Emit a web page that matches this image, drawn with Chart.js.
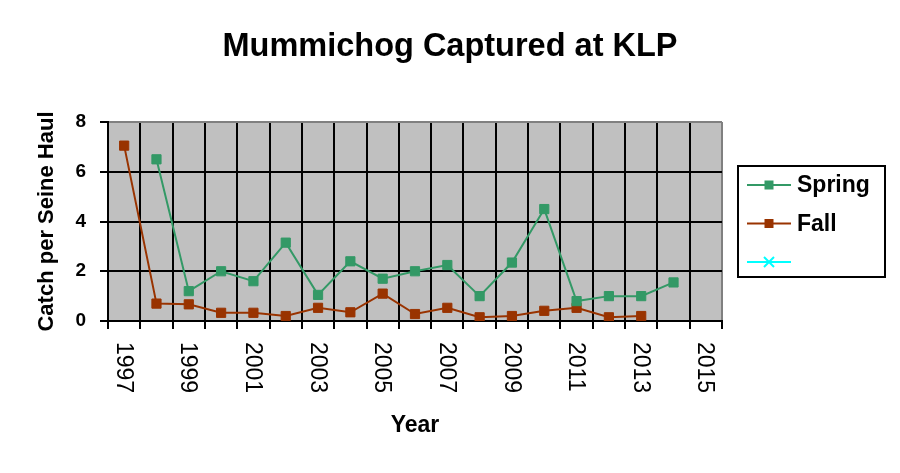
<!DOCTYPE html>
<html>
<head>
<meta charset="utf-8">
<script src="https://cdn.jsdelivr.net/npm/chart.js@4/dist/chart.umd.min.js"></script>
<style>
  html, body { margin: 0; padding: 0; background: #fff; }
  #wrap { width: 900px; height: 473px; }
</style>
</head>
<body>
<div id="wrap"><canvas id="chart"></canvas></div>
<script>
  'use strict';

  const FONT = '"Liberation Sans", Arial, sans-serif';

  // data
  const years = ['1997', '1998', '1999', '2000', '2001', '2002', '2003', '2004', '2005', '2006',
    '2007', '2008', '2009', '2010', '2011', '2012', '2013', '2014', '2015'];
  const spring = [null, 6.5, 1.2, 2.0, 1.6, 3.15, 1.05, 2.4, 1.7, 2.0,
    2.25, 1.0, 2.35, 4.5, 0.8, 1.0, 1.0, 1.55, null];
  const fall = [7.05, 0.7, 0.67, 0.33, 0.33, 0.2, 0.53, 0.35, 1.1, 0.28,
    0.53, 0.15, 0.2, 0.41, 0.53, 0.15, 0.2, null, null];
  const empty = years.map(() => null);
  const yTicks = [0, 2, 4, 6, 8];
  const chartTitle = 'Mummichog Captured at KLP';

  // grey plot background
  const plotBg = {
    id: 'plotBg',
    beforeDraw(chart) {
      const { ctx, chartArea: a } = chart;
      ctx.save();
      ctx.fillStyle = '#C0C0C0';
      ctx.fillRect(a.left, a.top, a.right - a.left, a.bottom - a.top);
      ctx.restore();
    }
  };

  // title centred on the whole canvas, not just the plot
  const pageTitle = {
    id: 'pageTitle',
    afterDraw(chart) {
      const { ctx } = chart;
      ctx.save();
      ctx.fillStyle = '#000';
      ctx.font = 'bold 32.5px ' + FONT;
      ctx.textAlign = 'center';
      ctx.textBaseline = 'middle';
      ctx.fillText(chartTitle, chart.width / 2, 47);
      ctx.restore();
    }
  };

  // x labels rotated clockwise (Chart.js only rotates the other way)
  const xLabels = {
    id: 'xLabels',
    afterDraw(chart) {
      const { ctx, chartArea: a } = chart;
      const xs = chart.scales.x;
      ctx.save();
      ctx.fillStyle = '#000';
      ctx.font = '23px ' + FONT;
      ctx.textAlign = 'left';
      ctx.textBaseline = 'middle';
      years.forEach((lab, i) => {
        if (i % 2 !== 0) return;
        const x = xs.getPixelForValue(i);
        ctx.save();
        ctx.translate(x - 1, a.bottom + 21);
        ctx.rotate(Math.PI / 2);
        ctx.fillText(lab, 0, 0);
        ctx.restore();
      });
      ctx.restore();
    }
  };

  // boxed legend on the right, line + marker like the original
  const boxLegend = {
    id: 'boxLegend',
    afterDraw(chart) {
      const { ctx, chartArea: a } = chart;
      const x0 = a.right + 16;
      const y0 = a.top + 44;
      const w = 147, h = 111;
      ctx.save();
      ctx.fillStyle = '#fff';
      ctx.fillRect(x0, y0, w, h);
      ctx.strokeStyle = '#000';
      ctx.lineWidth = 2;
      ctx.strokeRect(x0, y0, w, h);
      chart.data.datasets.forEach((ds, i) => {
        const cy = y0 + 19 + i * 38.5;
        const cx = x0 + 31;
        ctx.strokeStyle = ds.borderColor;
        ctx.lineWidth = 2;
        ctx.beginPath();
        ctx.moveTo(x0 + 9, cy);
        ctx.lineTo(x0 + 53, cy);
        ctx.stroke();
        if (ds.pointStyle === 'rect') {
          ctx.fillStyle = ds.borderColor;
          ctx.fillRect(cx - 4.5, cy - 4.5, 9, 9);
        } else {
          ctx.beginPath();
          ctx.moveTo(cx - 5, cy - 5); ctx.lineTo(cx + 5, cy + 5);
          ctx.moveTo(cx + 5, cy - 5); ctx.lineTo(cx - 5, cy + 5);
          ctx.stroke();
        }
        if (ds.label) {
          ctx.fillStyle = '#000';
          ctx.font = 'bold 23px ' + FONT;
          ctx.textAlign = 'left';
          ctx.textBaseline = 'middle';
          ctx.fillText(ds.label, x0 + 59, cy + 1);
        }
      });
      ctx.restore();
    }
  };

  function series(label, data, color, style) {
    return {
      label: label,
      data: data,
      borderColor: color,
      backgroundColor: color,
      borderWidth: 2,
      tension: 0,
      pointStyle: style,
      pointRadius: 6.5,
      pointBorderWidth: 1,
      pointBackgroundColor: color,
      pointBorderColor: color,
      pointHoverRadius: 6.5
    };
  }

  new Chart(document.getElementById('chart'), {
    type: 'line',
    data: {
      labels: years,
      datasets: [
        series('Spring', spring, '#339966', 'rect'),
        series('Fall', fall, '#993300', 'rect'),
        series('', empty, '#00FFFF', 'crossRot')
      ]
    },
    options: {
      responsive: true,
      maintainAspectRatio: false,
      animation: false,
      layout: { padding: { left: 0, right: 178, top: 122, bottom: 0 } },
      scales: {
        x: {
          type: 'category',
          offset: true,
          afterFit(scale) { scale.height = 152; },
          grid: {
            offset: true,
            color: c => (c.tick ? '#000' : '#808080'),
            tickColor: '#000',
            lineWidth: 2,
            tickLength: 8
          },
          border: { color: '#000', width: 2 },
          ticks: { display: false },
          title: {
            display: true,
            text: 'Year',
            color: '#000',
            font: { family: FONT, size: 23, weight: 'bold' },
            padding: { top: 0, bottom: 34 }
          }
        },
        y: {
          min: 0,
          max: 8,
          afterFit(scale) { scale.width = 108; },
          afterBuildTicks(scale) { scale.ticks = yTicks.map(v => ({ value: v })); },
          grid: {
            color: c => (c.tick && c.tick.value === 8 ? '#808080' : '#000'),
            tickColor: '#000',
            lineWidth: 2,
            tickLength: 8
          },
          border: { color: '#000', width: 2 },
          ticks: {
            color: '#000',
            padding: 14,
            font: { family: FONT, size: 19, weight: 'bold' }
          },
          title: {
            display: true,
            text: 'Catch per Seine Haul',
            color: '#000',
            font: { family: FONT, size: 22, weight: 'bold' },
            padding: { top: 34, bottom: 0 }
          }
        }
      },
      plugins: {
        legend: { display: false },
        tooltip: { enabled: false },
        title: { display: false }
      }
    },
    plugins: [plotBg, pageTitle, xLabels, boxLegend]
  });
</script>
</body>
</html>
